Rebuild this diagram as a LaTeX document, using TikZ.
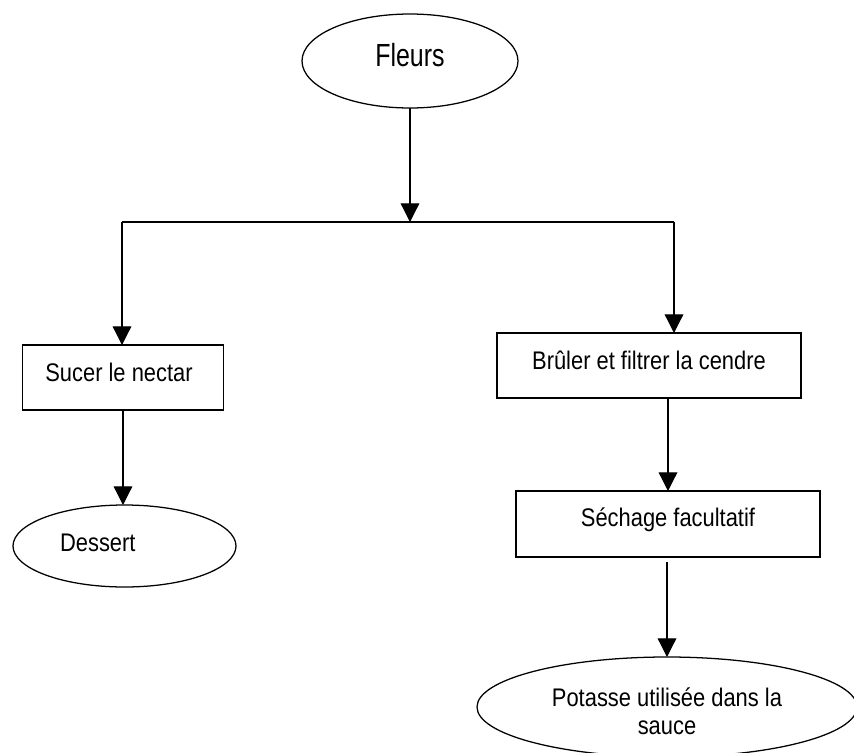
\documentclass[tikz,border=0pt]{standalone}
\usepackage{fontspec}
\usetikzlibrary{shapes.geometric,arrows.meta}
\newfontfamily\lblfont{Liberation Sans}[FakeStretch=0.86]
\newfontfamily\bigfont{Liberation Sans}[FakeStretch=0.78]
\tikzset{
  lbltext/.style={font=\lblfont\fontsize{19.1pt}{21.2pt}\selectfont, align=center},
  bigtext/.style={font=\bigfont\fontsize{24pt}{28pt}\selectfont},
  shapebase/.style={draw=black, line width=0.95pt, inner sep=0pt, outer sep=0pt, fill=white},
  oval/.style={shapebase, ellipse},
  stepbox/.style={shapebase, rectangle},
  conn/.style={draw=black, line width=0.95pt},
  arr/.style={conn, -{Triangle[length=14pt,width=14pt]}},
}
\begin{document}
\begin{tikzpicture}[x=0.75pt,y=-0.75pt]
\useasboundingbox (0,0) rectangle (854,753);
\clip (0,0) rectangle (854,753);
\fill[white] (0,0) rectangle (854,753);

\node[oval, minimum width=162pt, minimum height=70.5pt,
      label={[bigtext, yshift=4.5pt]center:Fleurs}] (fleurs) at (410,61) {};

\node[stepbox, minimum width=150.75pt, minimum height=48.75pt,
      label={[lbltext, yshift=3.75pt, xshift=-3pt]center:Sucer le nectar}] (box1) at (123,377.5) {};

\node[oval, minimum width=167.25pt, minimum height=61.5pt,
      label={[lbltext, yshift=2.25pt, xshift=-20pt]center:Dessert}] (dessert) at (124.5,546) {};

\node[stepbox, minimum width=228pt, minimum height=48.75pt,
      label={[lbltext, yshift=3.75pt]center:Brûler et filtrer la cendre}] (box2) at (649,365.5) {};

\node[stepbox, minimum width=228pt, minimum height=49.5pt,
      label={[lbltext, yshift=3pt]center:Séchage facultatif}] (box3) at (668,524) {};

\node[oval, minimum width=285pt, minimum height=75pt,
      label={[lbltext, yshift=-3pt]center:Potasse utilisée dans la\\sauce}] (potasse) at (667,707) {};

\coordinate (j) at (410,222);
\coordinate (l) at (122,222);
\coordinate (r) at (674,222);

\draw[arr] (fleurs.south) -- (j);
\draw[conn] (l) -- (r);
\draw[arr] (l) -- (l |- box1.north);
\draw[arr] (r) -- (r |- box2.north);
\draw[arr] (box1.south) -- (box1.south |- dessert.north);
\draw[arr] (box3.north |- box2.south) -- (box3.north);
\draw[arr, shorten <=3.75pt] (box3.south -| potasse.north) -- (potasse.north);
\end{tikzpicture}
\end{document}
